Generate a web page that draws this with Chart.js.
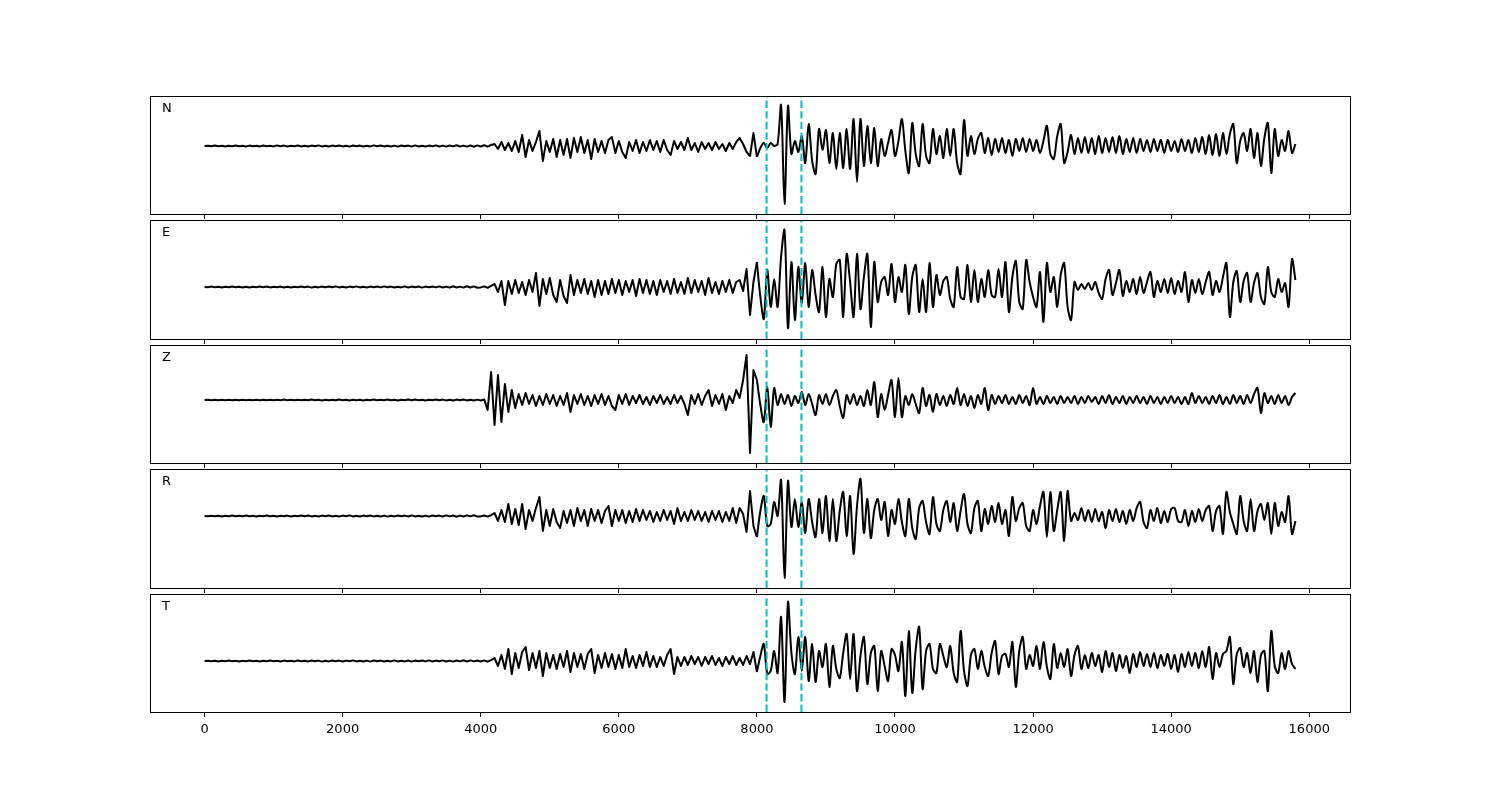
<!DOCTYPE html>
<html>
<head>
<meta charset="utf-8">
<script src="https://cdn.jsdelivr.net/npm/chart.js@4.4.1/dist/chart.umd.min.js"></script>
<style>
  html, body { margin: 0; padding: 0; background: #fff; }
  #fig { position: relative; width: 1500px; height: 800px; }
  .panel { position: absolute; left: 0; width: 1500px; }
</style>
</head>
<body>
<div id="fig"></div>
<script>
// sample spacing of the traces (x units per sample)
const dt = 50;
// sample index where the slower surface-wave part starts (x = 8000)
const splitIndex = 160;
const channels = ['N', 'E', 'Z', 'R', 'T'];
const pickTimes = [8140, 8645];
const xTickValues = [0, 2000, 4000, 6000, 8000, 10000, 12000, 14000, 16000];
const xTickLabels = ['0', '2000', '4000', '6000', '8000', '10000', '12000', '14000', '16000'];

// amplitudes, one value per sample
const traceN = [
  0, 0.3, -0.2, 0.4, -0.3, 0.2, -0.4, 0.3, -0.2, 0.4,
  -0.3, 0.2, -0.5, 0.4, -0.2, 0.3, -0.4, 0.5, -0.3, 0.2,
  -0.4, 0.6, -0.3, 0.4, -0.5, 0.3, -0.2, 0.5, -0.4, 0.3,
  -0.5, 0.4, -0.3, 0.6, -0.4, 0.3, -0.5, 0.4, -0.3, 0.5,
  -0.4, 0.3, -0.6, 0.5, -0.3, 0.4, -0.5, 0.3, -0.4, 0.6,
  -0.3, 0.5, -0.4, 0.3, -0.5, 0.4, -0.6, 0.5, -0.3, 0.4,
  -0.5, 0.6, -0.4, 0.3, -0.5, 0.4, -0.3, 0.6, -0.5, 0.4,
  -0.6, 0.5, -0.4, 0.7, -0.5, 0.4, -0.6, 0.5, -0.7, 0.6,
  -0.5, 0.8, -0.7, 1.0, 2, -3, 4, -4, 3, -5,
  5, -6, 11, -11, 6, -5, 4, 15, -15, 5,
  -6, 7, -11, 6, -9, 7, -12, 8, -6, 9,
  -7, 6, -13, 7, -6, 5, -7, 6, 9, -7,
  5, -6, -12, 4, -5, 6, -7, 4, -5, 6,
  -4, 5, -6, 6, -4, -9, 5, -3, 4, -4,
  8, -4, 3, -6, 4, -3, 3, -4, 4, -3,
  2, -5, 3, -3, 4, 8, 2, -6, -10, 13,
  -11, -2, 3, -2, 3, 0, 2, 41, -58, 40,
  -8, 5, -6, 10, -17, 22, -15, -28, 17, -4,
  16, -17, 13, -23, 13, -22, 17, -23, 27, -36,
  27, -20, 20, -17, 18, -20, 7, -10, 3, 16,
  -10, 5, 27, -5, -27, 23, -8, -20, 22, -10,
  -17, 17, -8, 10, -12, 17, -10, 17, -17, -28,
  26, -10, 10, -8, 7, 13, -7, 8, -9, 7,
  -6, 8, -7, 6, -10, 7, -5, 8, -6, 7,
  -5, 6, -7, 5, 20, -8, -13, 10, 22, -17,
  -6, 11, -8, 8, -7, 9, -7, 8, -8, 10,
  -7, 8, -6, 9, -7, 10, -8, 7, -6, 8,
  -7, 7, -5, 6, -6, 7, -5, 6, -7, 6,
  -5, 5, -6, 7, -5, 6, -7, 8, -6, 9,
  -8, 11, -9, 12, -10, 13, -8, 12, 22, -17,
  5, 13, -5, 17, -12, 13, -20, 8, 23, -27,
  17, -10, 6, -5, 15, -7, 2
];

const traceE = [
  0, -0.3, 0.4, -0.2, 0.3, -0.4, 0.2, -0.3, 0.5, -0.2,
  0.3, -0.4, 0.3, -0.5, 0.2, -0.3, 0.4, -0.2, 0.5, -0.4,
  0.3, -0.2, 0.4, -0.5, 0.3, -0.4, 0.2, -0.3, 0.5, -0.3,
  0.4, -0.6, 0.3, -0.4, 0.5, -0.3, 0.4, -0.2, 0.6, -0.4,
  0.3, -0.5, 0.4, -0.3, 0.6, -0.4, 0.3, -0.5, 0.4, -0.3,
  0.5, -0.4, 0.6, -0.3, 0.4, -0.5, 0.3, -0.4, 0.6, -0.5,
  0.4, -0.3, 0.5, -0.6, 0.4, -0.3, 0.5, -0.4, 0.6, -0.5,
  0.4, -0.6, 0.7, -0.5, 0.4, -0.6, 0.8, -0.5, 0.6, -0.7,
  -0.4, 0.6, -0.8, 1.2, 3, -5, 6, -18, 6, -7,
  7, -6, 5, -8, 7, -5, 14, -19, 8, -7,
  9, -8, -15, 7, -9, -16, 12, -8, 7, -6,
  8, -7, 6, -10, 7, -8, 6, -7, 8, -6,
  7, -8, 6, -5, 7, -9, 8, -6, 7, -7,
  6, -8, 7, -5, 6, -7, 8, -6, 5, -7,
  9, -6, 7, -5, 6, -8, 9, -6, 5, -7,
  6, -5, 7, -6, 5, 7, -4, 18, -28, 5,
  25, -10, -32, 17, -20, 8, -20, 30, 57, -41,
  25, -33, 20, -16, 24, -20, 17, -8, -25, 20,
  -30, 8, -10, 23, 27, -30, 33, 5, -30, 33,
  -22, 10, 33, -40, 25, -15, 5, 10, -8, 23,
  -15, 10, -5, 22, -27, 10, 22, -25, 8, -25,
  24, -20, 12, -8, 6, 10, -12, -20, 20, -10,
  -12, 22, -15, 17, -15, 8, -10, 17, -8, -10,
  18, -10, 25, -25, 10, 26, -15, -22, 27, 5,
  -10, -20, 15, -35, 24, -5, 10, -20, 12, 24,
  -20, -33, 5, -3, 3, -2, 4, -3, 5, -6,
  -12, 8, 17, -8, 4, 17, -9, 6, -5, 8,
  -7, 10, -6, 5, 15, -10, 6, -5, 8, -6,
  9, -7, 6, -5, 15, -15, 7, -6, 8, -7,
  5, 15, -8, 6, -5, 10, 24, -30, 5, 16,
  -15, 6, 14, -15, 4, 14, -10, -17, 20, -5,
  -10, 8, -5, 4, -20, 28, 7
];

const traceZ = [
  0, 0.2, -0.3, 0.2, -0.2, 0.3, -0.2, 0.2, -0.3, 0.3,
  -0.2, 0.3, -0.2, 0.2, -0.3, 0.2, -0.2, 0.3, -0.3, 0.2,
  -0.3, 0.2, -0.2, 0.4, -0.2, 0.3, -0.3, 0.2, -0.2, 0.3,
  -0.3, 0.4, -0.2, 0.3, -0.4, 0.2, -0.3, 0.3, -0.2, 0.4,
  -0.3, 0.2, -0.4, 0.3, -0.2, 0.3, -0.4, 0.2, -0.3, 0.4,
  -0.2, 0.3, -0.3, 0.4, -0.2, 0.3, -0.4, 0.3, -0.2, 0.4,
  -0.3, 0.4, -0.2, 0.3, -0.4, 0.3, -0.3, 0.5, -0.3, 0.4,
  -0.4, 0.3, -0.5, 0.4, -0.3, 0.5, -0.4, 0.3, -0.5, 0.4,
  -0.5, 0.6, -10, 28, -25, 25, -22, 16, -12, 10,
  -8, 6, -5, 7, -4, 5, -6, 4, -5, 6,
  -4, 5, -6, 4, -5, 7, -12, 5, -4, 6,
  -5, 4, -6, 5, -4, 6, -5, 4, -6, -10,
  5, -4, 6, -5, 4, -3, 5, -4, 3, -5,
  4, -3, 5, -4, 3, -4, 5, -3, 4, -4,
  -15, 5, -4, 6, -5, 4, 10, -6, 5, -4,
  6, -10, 4, -3, 10, 2, 20, 45, -53, 30,
  20, -5, -22, 13, -27, 12, -5, 6, -4, 5,
  -6, 4, -3, 8, -5, 6, -4, -15, 5, -4,
  6, -5, 4, 10, -6, -18, 5, -4, 6, -5,
  4, -6, 10, -5, 18, -17, 6, -10, 5, 20,
  -17, 22, -17, 4, -5, 6, -4, -13, 12, -6,
  5, -12, 6, -5, 4, -6, 5, -4, 12, -5,
  6, -6, 4, -8, 5, -4, 12, -10, 5, -4,
  4, -3, 5, -4, 3, -4, 5, -3, 4, -5,
  12, -4, 3, -4, 4, -3, 3, -4, 4, -3,
  3, -3, 4, -4, 3, -3, 4, -2, 3, -4,
  4, -3, 5, -4, 3, -3, 4, -4, 3, -3,
  4, -3, 3, -4, 4, -3, 3, -4, 3, -3,
  4, -3, 3, -4, 3, -4, 7, -3, 4, -3,
  3, -4, 4, -3, 5, -4, 3, -4, 5, -3,
  4, -4, 5, -3, 6, 12, -13, 7, -3, 4,
  -4, 5, -3, 4, -5, 3, 7
];

const traceR = [
  0, -0.2, 0.3, -0.3, 0.2, -0.4, 0.3, -0.2, 0.4, -0.3,
  0.2, -0.3, 0.4, -0.2, 0.3, -0.4, 0.2, -0.3, 0.5, -0.3,
  0.3, -0.4, 0.2, -0.3, 0.4, -0.5, 0.3, -0.2, 0.4, -0.3,
  0.5, -0.4, 0.3, -0.5, 0.4, -0.3, 0.5, -0.4, 0.3, -0.5,
  0.4, -0.3, 0.6, -0.4, 0.3, -0.5, 0.4, -0.3, 0.5, -0.4,
  0.3, -0.5, 0.4, -0.6, 0.3, -0.4, 0.5, -0.3, 0.4, -0.5,
  0.6, -0.4, 0.3, -0.5, 0.4, -0.6, 0.5, -0.3, 0.4, -0.5,
  0.6, -0.4, 0.5, -0.7, 0.4, -0.5, 0.6, -0.4, 0.7, -0.6,
  -0.4, 0.5, -0.6, 0.8, 3, -5, 6, -6, 12, -8,
  7, -9, 12, -13, 6, -5, 8, 19, -15, 6,
  -10, 7, -6, -12, 5, -7, 6, -10, 8, -5,
  6, -10, 7, -5, 6, -7, 5, 10, -10, 6,
  -5, 6, -7, 5, -6, 7, -5, 6, -4, 5,
  -6, 4, -5, 6, -4, 5, -8, 8, -5, 4,
  -5, 6, -4, 5, -5, 4, -6, 5, -4, 5,
  -6, 4, -5, 8, -7, 8, 2, -16, 25, -10,
  -21, 5, 20, -10, -8, 14, 0, 36, -62, 35,
  -11, 17, -11, 14, -17, 17, -6, -21, 17, -17,
  20, -25, 17, -25, 5, 24, -20, 20, -38, 10,
  37, -17, 17, -22, 6, 17, -4, 14, -20, 6,
  -8, 17, -6, -20, 17, -12, -23, 8, 15, -6,
  -18, 19, -8, -15, 6, 15, -6, 13, -15, 5,
  22, -8, -17, 8, 15, -15, 7, -8, 10, -6,
  13, -8, 6, -20, 19, -5, 8, 13, -10, -15,
  6, -8, 10, 24, -21, 24, -15, 6, 24, -25,
  25, -5, 3, -4, 8, -5, 6, -6, 7, -5,
  4, -12, 6, -5, 7, -6, 5, -8, 6, -5,
  8, 14, -6, -12, 6, -5, 8, -7, 5, -6,
  7, 8, -5, -6, 6, -10, 5, -6, 7, -5,
  6, 10, -15, 5, 10, -18, 24, 4, -8, -18,
  20, -5, -15, 17, -15, 5, 12, -4, 13, -18,
  13, -10, 4, -6, 20, -18, -5
];

const traceT = [
  0, 0.3, -0.3, 0.2, -0.4, 0.3, -0.2, 0.4, -0.3, 0.2,
  -0.4, 0.3, -0.2, 0.5, -0.3, 0.2, -0.4, 0.3, -0.3, 0.4,
  -0.2, 0.3, -0.5, 0.4, -0.3, 0.2, -0.4, 0.5, -0.3, 0.3,
  -0.4, 0.5, -0.3, 0.4, -0.6, 0.3, -0.4, 0.5, -0.3, 0.4,
  -0.5, 0.4, -0.3, 0.6, -0.4, 0.3, -0.5, 0.4, -0.6, 0.5,
  -0.3, 0.4, -0.5, 0.3, -0.4, 0.6, -0.5, 0.3, -0.4, 0.5,
  -0.6, 0.4, -0.3, 0.5, -0.4, 0.6, -0.5, 0.4, -0.3, 0.6,
  -0.5, 0.4, -0.6, 0.5, -0.4, 0.7, -0.5, 0.6, -0.4, 0.5,
  -0.5, 0.6, -0.7, 0.9, 3, -5, 6, -8, 12, -13,
  8, -7, 9, 14, -9, 8, -7, 10, -15, 8,
  -7, 6, -8, 7, -6, 10, -11, 8, -6, 7,
  -8, 7, 12, -12, 6, -7, 8, -6, 7, -8,
  6, -7, 12, -6, 5, -7, 6, -5, 9, -6,
  5, -6, 4, -5, 6, 12, -13, 4, -5, 4,
  -4, 5, -3, 4, -5, 4, -3, 5, -4, 3,
  -5, 4, -3, 5, -4, 3, -4, 5, -3, 9,
  -11, 5, 17, -13, -10, 10, -12, 44, -41, 59,
  8, -13, 24, -10, 24, -20, 17, -21, 10, -6,
  17, -26, 15, -8, -17, 8, 27, -18, 27, -30,
  5, 24, -23, 8, 15, -30, 10, -5, -20, 12,
  6, -10, 19, -35, 30, -32, 12, 34, -28, 10,
  17, -8, -12, 17, 5, -6, 15, -12, -21, 30,
  -10, -25, 6, 12, -8, 10, -6, -15, 8, 20,
  -13, 5, 7, -6, 19, -26, 10, 24, -8, 6,
  -5, 15, -8, 19, -6, -18, 17, -7, 8, -6,
  12, -15, 6, 15, -8, 6, -7, 8, -5, 6,
  -11, 10, -6, 8, -10, 6, -7, 5, -12, 7,
  -6, 9, -5, 7, -6, 8, -7, 6, -5, 7,
  -8, 6, -11, 7, -6, 9, -5, 8, -7, 10,
  -6, 14, -18, 8, -6, 7, 10, 24, -23, 7,
  13, -6, 8, -12, 10, -21, 6, 10, -30, 30,
  -5, -12, 8, -8, 10, -3, -8
];

const traces = [traceN, traceE, traceZ, traceR, traceT];

// layout of the stacked panels (page pixels) and their y limits
const panelTops = [96, 220, 345, 469, 594];
const panelHeights = [118, 119, 118, 119, 118];
const yLimits = [[-68, 50], [-52, 67], [-63, 55], [-72, 47], [-51, 67]];
const xMin = -790, xMax = 16590;

// frame round the axes plus the channel letter in the corner
const framePlugin = {
  id: 'frame',
  afterDraw(chart, args, opts) {
    const { ctx, chartArea: a } = chart;
    ctx.save();
    ctx.strokeStyle = '#000';
    ctx.lineWidth = 1;
    ctx.strokeRect(a.left + 0.5, a.top + 0.5, a.right - a.left, a.bottom - a.top);
    ctx.fillStyle = '#000';
    ctx.font = '13px "DejaVu Sans"';
    ctx.textBaseline = 'middle';
    ctx.fillText(opts.label, a.left + 12, a.top + 12.5);
    ctx.restore();
  }
};

const fig = document.getElementById('fig');

function traceStyle(tension) {
  return {
    borderColor: '#000',
    borderWidth: 2,
    borderJoinStyle: 'round',
    pointRadius: 0,
    tension: tension,
    order: 2
  };
}

channels.forEach((name, k) => {
  const last = k === channels.length - 1;
  const padTop = 4;
  const axisH = last ? 40 : 6;
  const h = padTop + panelHeights[k] + axisH;

  const div = document.createElement('div');
  div.className = 'panel';
  div.style.top = (panelTops[k] - padTop) + 'px';
  div.style.height = h + 'px';
  const canvas = document.createElement('canvas');
  canvas.width = 1500;
  canvas.height = h;
  div.appendChild(canvas);
  fig.appendChild(div);

  const [ymin, ymax] = yLimits[k];
  const pts = traces[k].map((v, i) => ({ x: i * dt, y: v }));

  // fast early part drawn straight, slower later part slightly smoothed
  const datasets = [
    Object.assign({ data: pts.slice(0, splitIndex + 1) }, traceStyle(0)),
    Object.assign({ data: pts.slice(splitIndex) }, traceStyle(0.3))
  ];
  pickTimes.forEach(p => {
    datasets.push({
      data: [{ x: p, y: ymin }, { x: p, y: ymax }],
      borderColor: '#00bfbf',
      borderWidth: 2,
      borderDash: [7.4, 3.2],
      pointRadius: 0,
      order: 1
    });
  });

  new Chart(canvas, {
    type: 'line',
    data: { datasets },
    options: {
      responsive: false,
      animation: false,
      events: [],
      layout: { padding: { left: 150, right: 150, top: padTop, bottom: 0 } },
      scales: {
        x: {
          type: 'linear',
          min: xMin,
          max: xMax,
          position: 'bottom',
          grid: { drawOnChartArea: false, drawTicks: true, tickLength: 5, color: '#000' },
          border: { display: true, color: '#000' },
          ticks: {
            display: last,
            color: '#000',
            padding: 5,
            maxRotation: 0,
            font: { family: 'DejaVu Sans', size: 13 },
            callback: v => xTickLabels[xTickValues.indexOf(v)]
          },
          afterBuildTicks: axis => { axis.ticks = xTickValues.map(v => ({ value: v })); },
          afterFit: axis => { axis.height = axisH; }
        },
        y: { display: false, min: ymin, max: ymax }
      },
      plugins: {
        legend: { display: false },
        tooltip: { enabled: false },
        frame: { label: name }
      }
    },
    plugins: [framePlugin]
  });
});
</script>
</body>
</html>
